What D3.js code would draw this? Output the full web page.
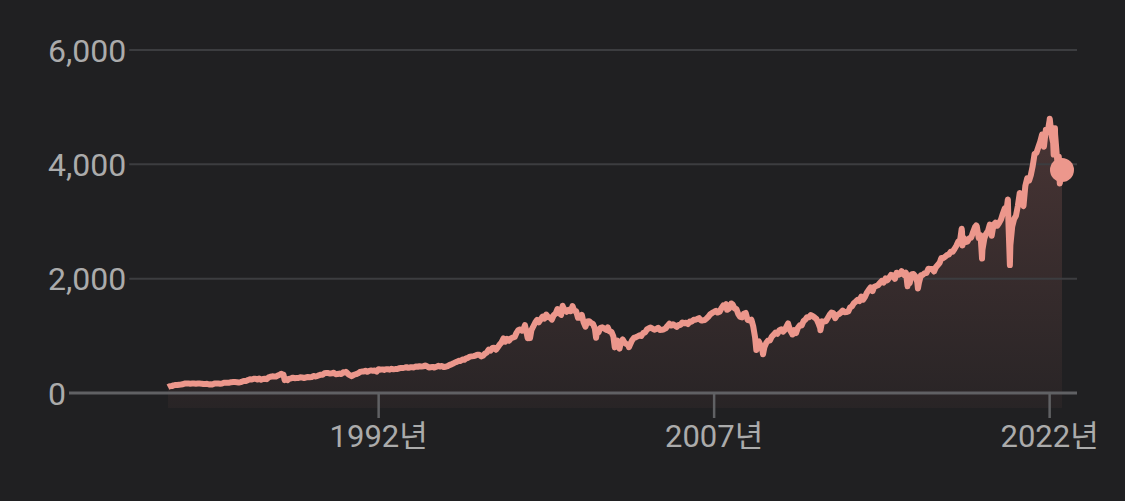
<!DOCTYPE html>
<html><head><meta charset="utf-8">
<script src="https://cdn.jsdelivr.net/npm/d3@7"></script>
<style>
html,body{margin:0;padding:0;background:#202022;}
svg{display:block;}
text{font-family:Roboto,"Noto Sans CJK KR",sans-serif;}
</style></head><body>
<svg id="chart" width="1125" height="501"></svg>
<script>
// ---- data (S&P 500 style index, monthly closes) ----
const startYear = 1982, startMonth = 7; // August 1982 (0-based month)
const monthlyCloses = [
 119.5,120.4,133.7,138.5,140.6,
 145.3,148.1,153.0,164.4,164.4,168.1,162.6,164.4,166.1,163.6,166.4,164.9,
 163.4,157.1,159.2,160.1,150.6,153.2,150.7,166.7,166.1,166.1,163.6,167.2,
 179.6,181.2,180.7,179.8,189.6,191.9,190.9,188.6,182.1,189.8,202.2,211.3,
 211.8,226.9,238.9,235.5,247.4,250.8,236.1,252.9,231.3,244.0,249.2,242.2,
 274.1,284.2,291.7,288.4,290.1,304.0,318.7,329.8,321.8,251.8,230.3,247.1,
 257.1,267.8,258.9,261.3,262.2,273.5,272.0,261.5,271.9,279.0,273.7,277.7,
 297.5,288.9,294.9,309.6,320.5,318.0,346.1,351.5,349.2,340.4,346.0,353.4,
 329.1,331.9,339.9,330.8,361.2,358.0,356.2,322.6,306.1,304.0,322.2,330.2,
 343.9,367.1,375.2,375.3,389.8,371.2,387.8,395.4,387.9,392.5,375.2,417.1,
 408.8,412.7,403.7,415.0,415.4,408.1,424.2,414.0,417.8,418.7,431.4,435.7,
 438.8,443.4,451.7,440.2,450.2,450.5,448.1,463.6,458.9,467.8,461.8,466.5,
 481.6,467.1,445.8,450.9,456.5,444.3,458.3,475.5,462.7,472.4,453.7,459.3,
 470.4,487.4,500.7,514.7,533.4,544.8,562.1,561.9,584.4,581.5,605.4,615.9,
 636.0,640.4,645.5,654.2,669.1,670.6,640.0,652.0,687.3,705.3,757.0,740.7,
 786.2,790.8,757.1,801.3,848.3,885.1,954.3,899.5,947.3,914.6,955.4,970.4,
 980.3,1049.3,1101.8,1111.8,1090.8,1133.8,1120.7,957.3,1017.0,1098.7,1163.6,1229.2,
 1279.6,1238.3,1286.4,1335.2,1301.8,1372.7,1328.7,1320.4,1282.7,1362.9,1388.9,1469.3,
 1394.5,1366.4,1498.6,1452.4,1420.6,1454.6,1430.8,1517.7,1436.5,1429.4,1315.2,1320.3,
 1366.0,1239.9,1160.3,1249.5,1255.8,1224.4,1211.2,1133.6,1040.9,1059.8,1139.5,1148.1,
 1130.2,1106.7,1147.4,1076.9,1067.1,989.8,911.6,916.1,815.3,885.8,936.3,879.8,
 855.7,841.2,848.2,916.9,963.6,974.5,990.3,1008.0,996.0,1050.7,1058.2,1111.9,
 1131.1,1144.9,1126.2,1107.3,1120.7,1140.8,1101.7,1104.2,1114.6,1130.2,1173.8,1211.9,
 1181.3,1203.6,1180.6,1156.9,1191.5,1191.3,1234.2,1220.3,1228.8,1207.0,1249.5,1248.3,
 1280.1,1280.7,1294.9,1310.6,1270.1,1270.2,1276.7,1303.8,1335.9,1377.9,1400.6,1418.3,
 1438.2,1406.8,1420.9,1482.4,1530.6,1503.4,1455.3,1474.0,1526.8,1549.4,1481.1,1468.4,
 1378.6,1330.6,1322.7,1385.6,1400.4,1280.0,1267.4,1282.8,1166.4,968.8,896.2,903.3,
 825.9,735.1,797.9,872.8,919.1,919.3,987.5,1020.6,1057.1,1036.2,1095.6,1115.1,
 1073.9,1104.5,1169.4,1186.7,1089.4,1030.7,1101.6,1049.3,1141.2,1183.3,1180.6,1257.6,
 1286.1,1327.2,1325.8,1363.6,1345.2,1320.6,1292.3,1218.9,1131.4,1253.3,1247.0,1257.6,
 1312.4,1365.7,1408.5,1397.9,1310.3,1362.2,1379.3,1406.6,1440.7,1412.2,1416.2,1426.2,
 1498.1,1514.7,1569.2,1597.6,1630.7,1606.3,1685.7,1633.0,1681.6,1756.5,1805.8,1848.4,
 1782.6,1859.5,1872.3,1884.0,1923.6,1960.2,1930.7,2003.4,1972.3,2018.1,2067.6,2058.9,
 1995.0,2104.5,2067.9,2085.5,2107.4,2063.1,2103.8,1972.2,1920.0,2079.4,2080.4,2043.9,
 1940.2,1932.2,2059.7,2065.3,2097.0,2098.9,2173.6,2171.0,2168.3,2126.2,2199.0,2238.8,
 2278.9,2363.6,2362.7,2384.2,2411.8,2423.4,2470.3,2471.7,2519.4,2575.3,2647.6,2673.6,
 2823.8,2713.8,2640.9,2648.1,2705.3,2718.4,2816.3,2901.5,2914.0,2711.7,2760.2,2506.9,
 2704.1,2784.5,2834.4,2945.8,2752.1,2941.8,2980.4,2926.5,2976.7,3037.6,3141.0,3230.8,
 3225.5,2954.2,2584.6,2912.4,3044.3,3100.3,3271.1,3500.3,3363.0,3270.0,3621.6,3756.1,
 3714.2,3811.2,3972.9,4181.2,4204.1,4297.5,4395.3,4522.7,4307.5,4605.4,4567.0,4766.2,
 4515.6,4373.9,4530.4,4131.9,4132.2,3785.4
];
// notable intra-month highs/lows
const extraPoints = [
 ["1982-08-12",102.4],["1987-08-25",336.8],["1987-10-19",224.8],["1987-12-04",223.9],
 ["1990-07-16",369.0],["1990-10-11",295.5],["1998-07-17",1186.8],["1998-10-08",959.4],
 ["2000-03-24",1527.5],["2000-09-01",1520.8],["2001-09-21",965.8],["2002-07-23",797.7],
 ["2002-10-09",776.8],["2003-03-11",800.7],["2007-07-19",1553.1],["2007-10-09",1565.2],
 ["2008-11-20",752.4],["2009-03-09",676.5],["2010-04-23",1217.3],["2010-07-02",1022.6],
 ["2011-10-03",1099.2],["2015-05-21",2130.8],["2015-08-25",1867.6],["2016-02-11",1829.1],
 ["2018-01-26",2872.9],["2018-02-08",2581.0],["2018-09-20",2930.8],["2018-12-24",2351.1],
 ["2020-02-19",3386.2],["2020-03-23",2237.4],["2022-01-03",4796.6],["2022-03-08",4170.7],
 ["2022-03-29",4631.6],["2022-05-20",3901.4],["2022-06-16",3666.8],["2022-07-22",3900.0]
];
const yTicks = [0, 2000, 4000, 6000];
const xTickYears = [1992, 2007, 2022];
const xTickLabels = ["1992년", "2007년", "2022년"];

// ---- build series ----
const series = monthlyCloses.map((v, i) => ({
  date: new Date(startYear, startMonth + i + 1, 0), value: v
}));
extraPoints.forEach(([d, v]) => series.push({date: new Date(d + "T00:00:00"), value: v}));
series.sort((a, b) => a.date - b.date);
series[0].date = new Date(1982, 7, 1);

// ---- layout ----
const svg = d3.select("#chart");
const lineColor = "#ec978c";
const textColor = "#ababab";
const x = d3.scaleTime().domain(d3.extent(series, d => d.date)).range([168, 1062]);
const y = d3.scaleLinear().domain([0, 6000]).range([393, 50]);
const gridRight = 1077;
const labelLeft = 48;

const defs = svg.append("defs");
const grad = defs.append("linearGradient").attr("id", "areaGrad")
  .attr("gradientUnits", "userSpaceOnUse").attr("x1", 0).attr("x2", 0)
  .attr("y1", y(5000)).attr("y2", y(0) + 15);
grad.append("stop").attr("offset", 0).attr("stop-color", "#f28b82").attr("stop-opacity", 0.2);
grad.append("stop").attr("offset", 1).attr("stop-color", "#f28b82").attr("stop-opacity", 0.04);

// area
const area = d3.area().x(d => x(d.date)).y0(y(0) + 15).y1(d => y(d.value));
svg.append("path").datum(series).attr("d", area).attr("fill", "url(#areaGrad)");

// y labels + gridlines
const yg = svg.append("g");
yTicks.forEach(t => {
  const txt = yg.append("text").attr("x", labelLeft).attr("y", y(t)).attr("dy", "0.36em")
    .attr("text-anchor", "start").attr("font-size", 32).attr("fill", textColor)
    .text(d3.format(",")(t));
  const w = txt.node().getComputedTextLength();
  yg.append("line").attr("x1", labelLeft + w + 3).attr("x2", gridRight)
    .attr("y1", y(t)).attr("y2", y(t))
    .attr("stroke", t === 0 ? "#606164" : "#3c3d40").attr("stroke-width", t === 0 ? 3 : 2);
});

// x ticks
const xAxis = svg.append("g");
xTickYears.forEach((yr, i) => {
  const xp = x(new Date(yr, 0, 1));
  xAxis.append("line").attr("x1", xp).attr("x2", xp).attr("y1", y(0)).attr("y2", y(0) + 25)
    .attr("stroke", "#606164").attr("stroke-width", 2.5);
  xAxis.append("text").attr("x", xp).attr("y", 447).attr("text-anchor", "middle")
    .attr("font-size", 31).attr("fill", textColor).text(xTickLabels[i]);
});

// line
const line = d3.line().x(d => x(d.date)).y(d => y(d.value));
svg.append("path").datum(series).attr("d", line).attr("fill", "none")
  .attr("stroke", lineColor).attr("stroke-width", 6).attr("stroke-linejoin", "round");

// end dot
const last = series[series.length - 1];
svg.append("circle").attr("cx", x(last.date)).attr("cy", y(last.value)).attr("r", 12)
  .attr("fill", lineColor);
</script></body></html>
